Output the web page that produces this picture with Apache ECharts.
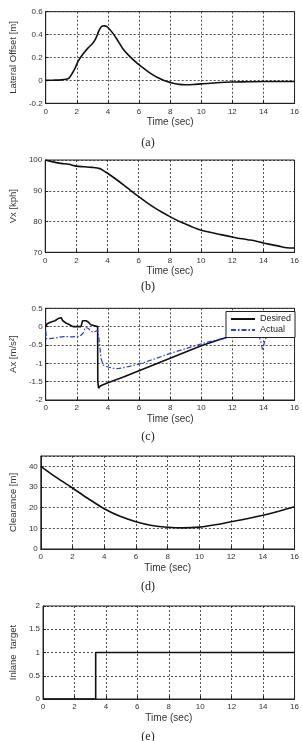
<!DOCTYPE html>
<html><head><meta charset="utf-8">
<script src="https://cdn.jsdelivr.net/npm/echarts@6/dist/echarts.min.js"></script>
<style>html,body{margin:0;padding:0;background:#fff}#c{width:302px;height:741px}</style>
</head><body><div id="c"></div>
<script>
// Panel (a) lateral offset
const timeA = [0,0.5,1,1.3,1.5,1.7,1.9,2.1,2.4,2.7,3.0,3.2,3.35,3.5,3.65,3.8,4,4.3,4.6,5,5.4,5.8,6.2,6.6,7,7.4,7.8,8.2,8.6,9,9.5,10,11,12,13,14,15,16];
const lateralOffset = [0,0.002,0.005,0.01,0.02,0.06,0.11,0.17,0.23,0.28,0.32,0.36,0.41,0.455,0.475,0.476,0.462,0.415,0.355,0.27,0.21,0.16,0.115,0.075,0.04,0.012,-0.01,-0.025,-0.035,-0.038,-0.036,-0.03,-0.02,-0.014,-0.012,-0.01,-0.01,-0.01];
// Panel (b) Vx
const timeB = [0,0.5,1,1.5,2,2.5,3,3.5,3.8,4,4.5,5,5.5,6,6.5,7,7.5,8,8.5,9,9.5,10,10.5,11,11.5,12,12.5,13,13.5,14,14.5,15,15.5,16];
const vx = [100,99.4,98.9,98.6,98.0,97.8,97.6,97.2,96.3,95.7,93.9,92,90,88.1,86.2,84.5,83,81.6,80.3,79.2,78.1,77.2,76.6,76,75.5,75,74.5,74.1,73.7,73.0,72.5,72.0,71.5,71.4];
// Panel (c) Ax
const timeDesired = [0,0.1,0.3,0.6,0.8,1.0,1.1,1.3,1.5,1.76,2.27,2.37,2.6,2.75,2.9,2.98,3.34,3.35,3.4,3.5,4,5,6,7,8,9,10,11,12,13,14,15,16];
const axDesired = [0,0.08,0.12,0.16,0.22,0.245,0.16,0.1,0.06,0,0,0.16,0.16,0.12,0.05,0,0,-1.5,-1.68,-1.62,-1.53,-1.37,-1.2,-1.03,-0.86,-0.69,-0.52,-0.38,-0.25,-0.19,-0.13,-0.07,0.0];
const timeActual = [0,0.05,0.2,0.6,1.0,1.1,1.3,1.7,2.2,2.4,2.55,2.65,2.75,2.9,3.1,3.35,3.45,3.55,3.7,4,4.5,5,6,7,8,9,10,11,12,13,13.6,13.8,13.95,14.05,14.2,14.4,15,15.4,16];
const axActual = [-0.12,-0.33,-0.33,-0.31,-0.28,-0.24,-0.27,-0.28,-0.26,-0.18,-0.02,0.03,-0.05,-0.13,-0.15,-0.1,-0.4,-0.85,-1.05,-1.1,-1.15,-1.12,-1.02,-0.88,-0.73,-0.6,-0.47,-0.36,-0.26,-0.21,-0.2,-0.35,-0.65,-0.45,-0.25,-0.2,-0.2,-0.12,0.0];
// Panel (d) clearance
const timeD = [0,1,2,3,4,5,6,7,8,9,10,11,12,13,14,15,16];
const clearance = [40,34.5,29.5,24.3,19.5,15.8,13.2,11.4,10.5,10.2,10.6,11.7,13.2,14.6,16.3,18.3,20.4];
// Panel (e) inlane target
const timeE = [0,3.35,3.35,16];
const inlane = [0,0,1,1];

const yNames = ['Lateral Offset [m]','Vx [kph]','Ax [m/s\u00B2]','Clearance [m]','Inlane  target'];
const captions = ['(a)','(b)','(c)','(d)','(e)'];
const xName = 'Time (sec)';
const legendNames = ['Desired','Actual'];
const yRanges = [[-0.2,0.6,0.2],[70,100,10],[-2,0.5,0.5],[0,45,10],[0,2,0.5]];

const grids = [
  {left:31, right:6, top:11.7, height:91.6},
  {left:31, right:7, top:160, height:92.3},
  {left:32, right:6, top:308.3, height:91.7},
  {left:29, right:7, top:456, height:93},
  {left:29, right:7, top:606, height:93}
];
const captionY = [143, 287, 437, 587, 737];
const nameGapsY = [19, 19, 19, 15, 17];

const zip = (a,b)=>a.map((t,i)=>[t,b[i]]);
const font = 'Liberation Sans, Arial, sans-serif';
const dashGrid = {show:true, lineStyle:{color:'#222', type:[2,2], width:0.8}};

const chart = echarts.init(document.getElementById('c'), null, {renderer:'canvas'});
const option = {
  animation:false,
  grid: grids.map(g=>Object.assign({show:true, borderColor:'#222', borderWidth:1}, g)),
  xAxis: grids.map((g,i)=>({
    type:'value', gridIndex:i, min:0, max:16, interval:2,
    name:xName, nameLocation:'middle', nameGap:14,
    nameTextStyle:{fontFamily:font, fontSize:10, color:'#333'},
    axisLine:{show:true, onZero:false, lineStyle:{color:'#222'}},
    axisTick:{show:true, inside:true, length:3, lineStyle:{color:'#222'}},
    axisLabel:{fontFamily:font, fontSize:8, color:'#333', margin:4},
    splitLine:dashGrid
  })),
  yAxis: yRanges.map((r,i)=>({
    type:'value', gridIndex:i, min:r[0], max:r[1], interval:r[2],
    name:yNames[i], nameLocation:'middle', nameRotate:90, nameGap:nameGapsY[i],
    nameTextStyle:{fontFamily:font, fontSize:9.5, color:'#333'},
    axisLine:{show:true, onZero:false, lineStyle:{color:'#222'}},
    axisTick:{show:true, inside:true, length:3, lineStyle:{color:'#222'}},
    axisLabel:{fontFamily:font, fontSize:8, color:'#333', margin:3, showMaxLabel: i!==3},
    splitLine:dashGrid
  })),
  legend:{
    show:true, orient:'vertical', right:7, top:311.5, z:10,
    data:legendNames,
    backgroundColor:'#fff', borderColor:'#222', borderWidth:1,
    padding:[3,4,3,4], itemGap:2, itemWidth:24, itemHeight:8,
    itemStyle:{opacity:0},
    textStyle:{fontFamily:font, fontSize:9, color:'#222'}
  },
  series:[
    {type:'line', xAxisIndex:0, yAxisIndex:0, data:zip(timeA,lateralOffset), symbol:'none', smooth:0.3, lineStyle:{color:'#111', width:1.6}},
    {type:'line', xAxisIndex:1, yAxisIndex:1, data:zip(timeB,vx), symbol:'none', smooth:0.3, lineStyle:{color:'#111', width:1.6}},
    {name:legendNames[0], type:'line', xAxisIndex:2, yAxisIndex:2, data:zip(timeDesired,axDesired), symbol:'none', itemStyle:{color:'#111'}, lineStyle:{color:'#111', width:1.6}},
    {name:legendNames[1], type:'line', xAxisIndex:2, yAxisIndex:2, data:zip(timeActual,axActual), symbol:'none', itemStyle:{color:'#2b3fd6'}, lineStyle:{color:'#2b3fd6', width:1.2, type:[5,2,1.5,2]}},
    {type:'line', xAxisIndex:3, yAxisIndex:3, data:zip(timeD,clearance), symbol:'none', smooth:0.3, lineStyle:{color:'#111', width:1.6}},
    {type:'line', xAxisIndex:4, yAxisIndex:4, data:zip(timeE,inlane), symbol:'none', lineStyle:{color:'#111', width:1.6}}
  ],
  graphic: captions.map((c,i)=>({
    type:'text', x:148, y:captionY[i],
    style:{text:c, font:'12px "Liberation Serif", "Times New Roman", serif', fill:'#222', textAlign:'center', textVerticalAlign:'middle'}
  }))
};
chart.setOption(option);
</script>
</body></html>
